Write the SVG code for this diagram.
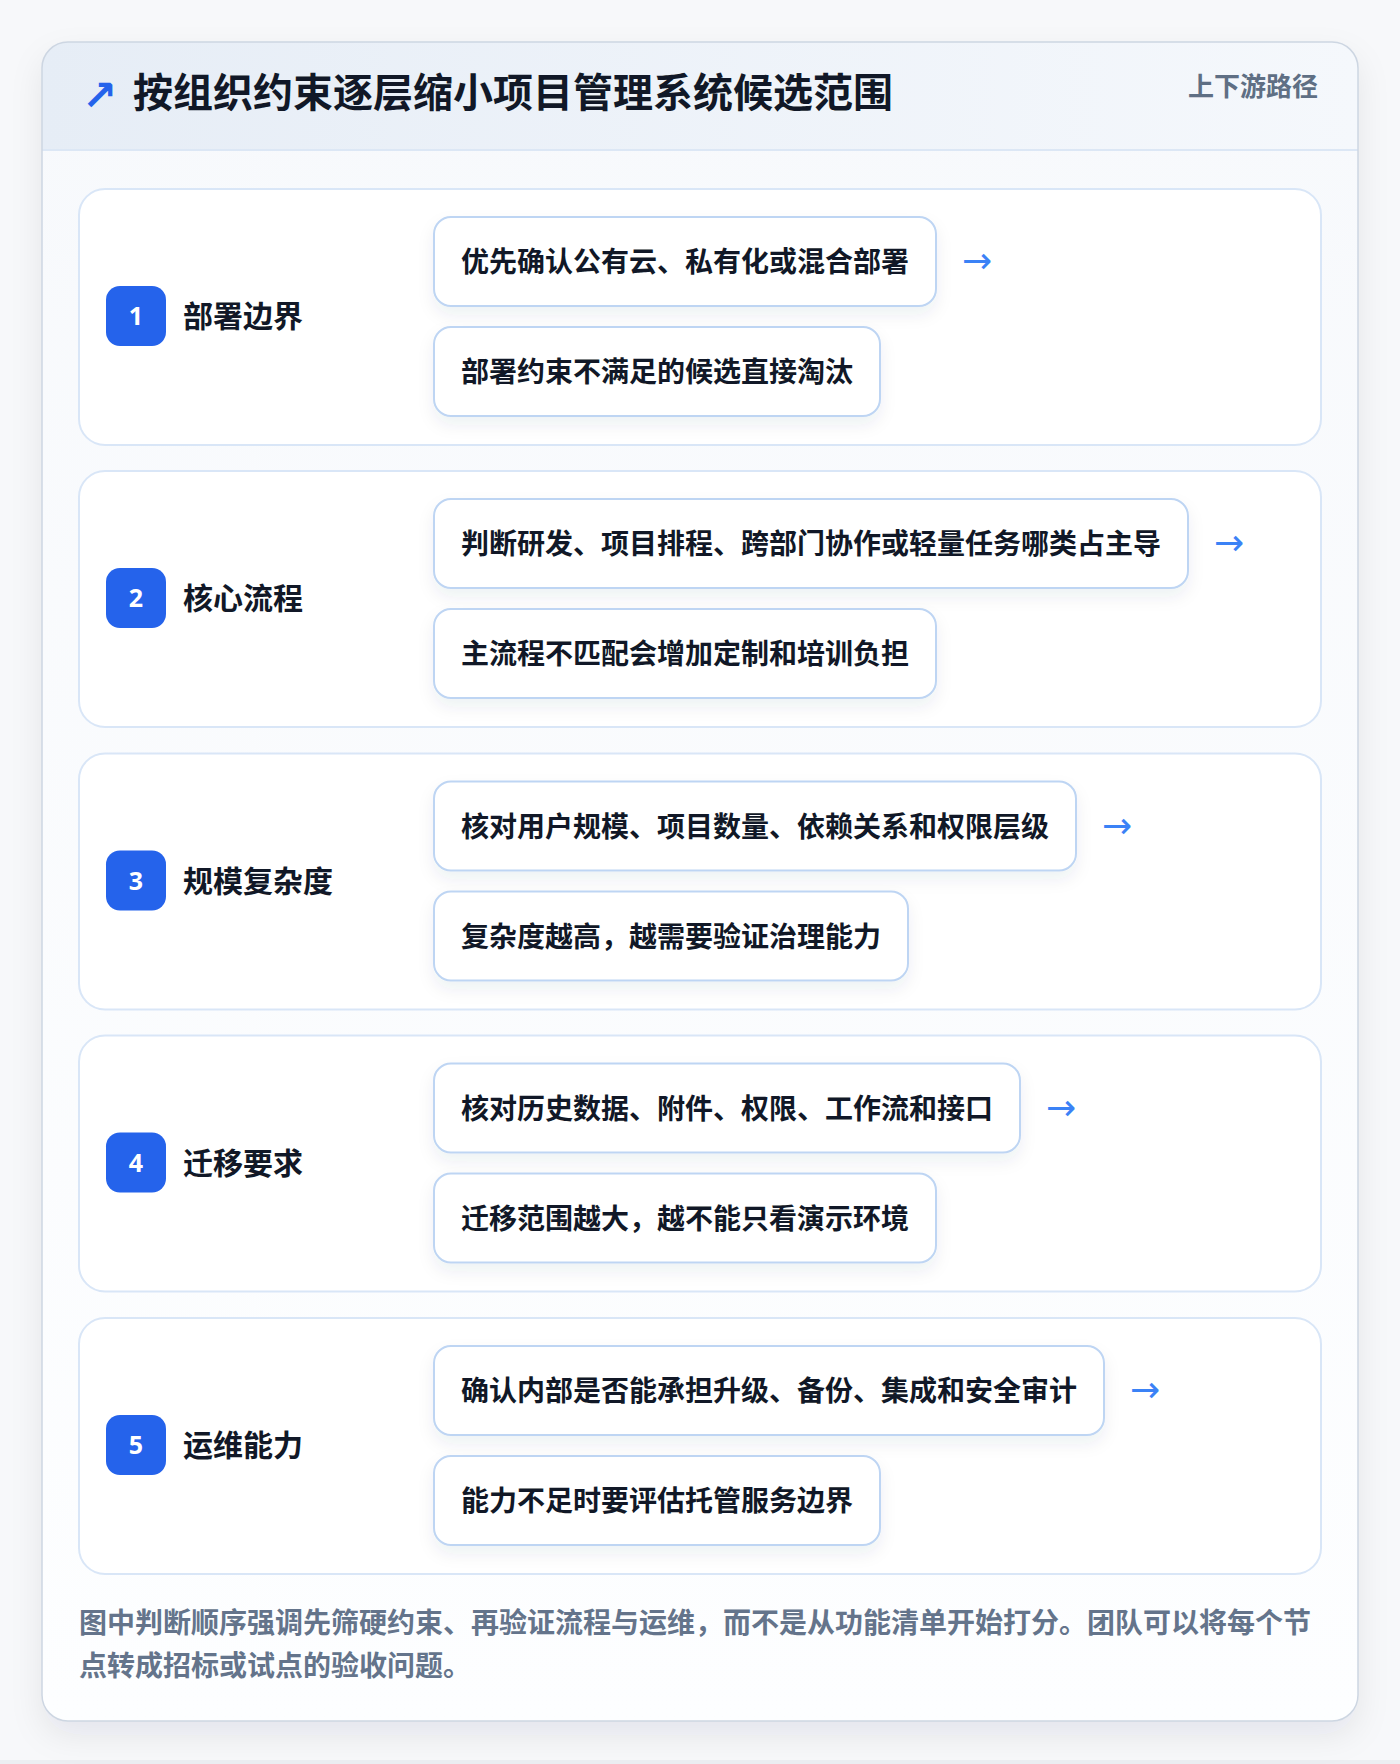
<svg xmlns="http://www.w3.org/2000/svg" width="1400" height="1764" viewBox="0 0 1400 1764">
<defs>
<linearGradient id="hdr" x1="0" y1="0" x2="1" y2="0">
<stop offset="0" stop-color="#e6edf6"/>
<stop offset="1" stop-color="#f5f8fc"/>
</linearGradient>
<linearGradient id="body" x1="0" y1="0" x2="0" y2="1">
<stop offset="0" stop-color="#f7f9fc"/>
<stop offset="1" stop-color="#fdfeff"/>
</linearGradient>
<filter id="cardShadow" x="-10%" y="-10%" width="120%" height="120%">
<feDropShadow dx="0" dy="14" stdDeviation="16" flood-color="#1e293b" flood-opacity="0.08"/>
</filter>
<filter id="boxShadow" x="-10%" y="-20%" width="120%" height="160%">
<feDropShadow dx="0" dy="8" stdDeviation="8" flood-color="#1e3a5f" flood-opacity="0.07"/>
</filter>
<clipPath id="cardClip"><rect x="42" y="42" width="1316" height="1679" rx="26"/></clipPath>
</defs>
<style>
.cjk{font-family:"Noto Sans CJK SC","Noto Sans",sans-serif;}
.title{font-size:40px;font-weight:700;fill:#111827;}
.tag{font-size:26px;font-weight:700;fill:#5f6f84;}
.row{fill:#ffffff;stroke:#d9e6f7;stroke-width:2;}
.badge{fill:#2563eb;}
.num{font-family:"Noto Sans","DejaVu Sans",sans-serif;font-size:25px;font-weight:700;fill:#ffffff;}
.label{font-size:30px;font-weight:700;fill:#111827;}
.box{fill:#ffffff;stroke:#bed5f3;stroke-width:2;filter:url(#boxShadow);}
.item{font-size:28px;font-weight:700;fill:#111827;}
.arrow{font-family:"DejaVu Sans",sans-serif;font-size:36px;fill:#3b82f6;}
.foot{font-size:28px;font-weight:700;fill:#64748b;}
</style>
<rect x="0" y="0" width="1400" height="1764" fill="#f7f8fa"/>
<rect x="0" y="1760" width="1400" height="4" fill="#eceef2"/>
<g id="card">
<rect x="42" y="42" width="1316" height="1679" rx="26" fill="url(#body)" filter="url(#cardShadow)"/>
<g clip-path="url(#cardClip)">
<rect x="42" y="42" width="1316" height="108" fill="url(#hdr)"/>
<line x1="42" y1="150" x2="1358" y2="150" stroke="#dce7f5" stroke-width="2"/>
</g>
<rect x="42" y="42" width="1316" height="1679" rx="26" fill="none" stroke="#cdd6e2" stroke-width="1.5"/>
</g>
<g id="header">
<text x="82" y="110" font-family="DejaVu Sans,sans-serif" font-size="42" font-weight="700" fill="#2563eb">↗</text>
<text x="133" y="107" class="cjk title">按组织约束逐层缩小项目管理系统候选范围</text>
<text x="1318" y="96" text-anchor="end" class="cjk tag">上下游路径</text>
</g>
<g id="row1">
<rect x="79" y="189" width="1242" height="256" rx="26" class="row"/>
<rect x="106" y="286" width="60" height="60" rx="14" class="badge"/>
<text x="136" y="325" text-anchor="middle" class="num">1</text>
<text x="183" y="327" class="cjk label">部署边界</text>
<rect x="434" y="217" width="502" height="89" rx="17" class="box"/>
<text x="461" y="272" class="cjk item">优先确认公有云、私有化或混合部署</text>
<rect x="434" y="327" width="446" height="89" rx="17" class="box"/>
<text x="461" y="382" class="cjk item">部署约束不满足的候选直接淘汰</text>
</g>
<g id="row2">
<rect x="79" y="471" width="1242" height="256" rx="26" class="row"/>
<rect x="106" y="568" width="60" height="60" rx="14" class="badge"/>
<text x="136" y="607" text-anchor="middle" class="num">2</text>
<text x="183" y="609" class="cjk label">核心流程</text>
<rect x="434" y="499" width="754" height="89" rx="17" class="box"/>
<text x="461" y="554" class="cjk item">判断研发、项目排程、跨部门协作或轻量任务哪类占主导</text>
<rect x="434" y="609" width="502" height="89" rx="17" class="box"/>
<text x="461" y="664" class="cjk item">主流程不匹配会增加定制和培训负担</text>
</g>
<g id="row3">
<rect x="79" y="753.5" width="1242" height="256" rx="26" class="row"/>
<rect x="106" y="850.5" width="60" height="60" rx="14" class="badge"/>
<text x="136" y="889.5" text-anchor="middle" class="num">3</text>
<text x="183" y="891.5" class="cjk label">规模复杂度</text>
<rect x="434" y="781.5" width="642" height="89" rx="17" class="box"/>
<text x="461" y="836.5" class="cjk item">核对用户规模、项目数量、依赖关系和权限层级</text>
<rect x="434" y="891.5" width="474" height="89" rx="17" class="box"/>
<text x="461" y="946.5" class="cjk item">复杂度越高，越需要验证治理能力</text>
</g>
<g id="row4">
<rect x="79" y="1035.5" width="1242" height="256" rx="26" class="row"/>
<rect x="106" y="1132.5" width="60" height="60" rx="14" class="badge"/>
<text x="136" y="1171.5" text-anchor="middle" class="num">4</text>
<text x="183" y="1173.5" class="cjk label">迁移要求</text>
<rect x="434" y="1063.5" width="586" height="89" rx="17" class="box"/>
<text x="461" y="1118.5" class="cjk item">核对历史数据、附件、权限、工作流和接口</text>
<rect x="434" y="1173.5" width="502" height="89" rx="17" class="box"/>
<text x="461" y="1228.5" class="cjk item">迁移范围越大，越不能只看演示环境</text>
</g>
<g id="row5">
<rect x="79" y="1318" width="1242" height="256" rx="26" class="row"/>
<rect x="106" y="1415" width="60" height="60" rx="14" class="badge"/>
<text x="136" y="1454" text-anchor="middle" class="num">5</text>
<text x="183" y="1456" class="cjk label">运维能力</text>
<rect x="434" y="1346" width="670" height="89" rx="17" class="box"/>
<text x="461" y="1401" class="cjk item">确认内部是否能承担升级、备份、集成和安全审计</text>
<rect x="434" y="1456" width="446" height="89" rx="17" class="box"/>
<text x="461" y="1511" class="cjk item">能力不足时要评估托管服务边界</text>
</g>
<g id="connectors">
<text x="962" y="273" class="arrow">→</text>
<text x="1214" y="555" class="arrow">→</text>
<text x="1102" y="837.5" class="arrow">→</text>
<text x="1046" y="1119.5" class="arrow">→</text>
<text x="1130" y="1402" class="arrow">→</text>
</g>
<g id="footer">
<text x="79" y="1633" class="cjk foot">图中判断顺序强调先筛硬约束、再验证流程与运维，而不是从功能清单开始打分。团队可以将每个节</text>
<text x="79" y="1676" class="cjk foot">点转成招标或试点的验收问题。</text>
</g>
</svg>
